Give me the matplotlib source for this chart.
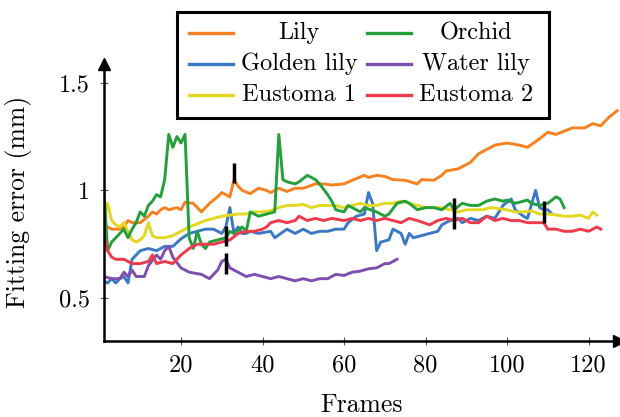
import matplotlib
matplotlib.use('Agg')
import matplotlib.pyplot as plt
from matplotlib.lines import Line2D
from matplotlib.patches import Rectangle

plt.rcParams['font.family'] = 'serif'
plt.rcParams['font.serif'] = ['cmr10']
plt.rcParams['mathtext.fontset'] = 'cm'
plt.rcParams['axes.unicode_minus'] = False

#-------------------------------------------------------------------------
# data
#-------------------------------------------------------------------------

lily_f = [1, 3, 5, 6, 7, 8, 10, 12, 13, 14, 15, 16, 17, 19, 20, 21, 23, 25, 27,
          29, 30, 32, 33, 34, 35, 37, 39, 41, 42, 44, 46, 48, 50, 53, 55, 57,
          60, 62, 65, 66, 68, 70, 72, 75, 78, 79, 82, 84, 85, 88, 89, 91, 93,
          95, 97, 100, 103, 105, 108, 110, 112, 116, 119, 121, 123, 125, 127]
lily_v = [0.84, 0.82, 0.82, 0.83, 0.86, 0.85, 0.85, 0.88, 0.90, 0.89, 0.91,
          0.92, 0.91, 0.92, 0.91, 0.945, 0.94, 0.90, 0.94, 0.97, 0.99, 0.97,
          1.05, 1.02, 1.00, 0.985, 1.01, 1.00, 0.99, 1.01, 0.995, 1.01, 1.01,
          1.03, 1.03, 1.025, 1.03, 1.047, 1.07, 1.06, 1.07, 1.065, 1.05, 1.047,
          1.03, 1.05, 1.047, 1.07, 1.09, 1.10, 1.11, 1.13, 1.17, 1.19, 1.21,
          1.22, 1.21, 1.20, 1.24, 1.27, 1.26, 1.29, 1.29, 1.31, 1.30, 1.34,
          1.37]

golden_f = [1, 2, 3, 4, 5, 6, 7, 8, 10, 12, 14, 16, 18, 20, 22, 24, 26, 28, 30,
            31, 32, 33, 34, 35, 36, 37, 39, 42, 43, 46, 48, 50, 52, 54, 56, 58,
            60, 61, 63, 65, 66, 67, 68, 69, 71, 72, 74, 75, 76, 77, 79, 81, 83,
            84, 86, 88, 89, 91, 93, 95, 97, 99, 101, 102, 104, 105, 107, 108,
            109, 110, 111]
golden_v = [0.58, 0.57, 0.59, 0.57, 0.59, 0.60, 0.57, 0.68, 0.72, 0.73, 0.72,
            0.74, 0.74, 0.775, 0.80, 0.81, 0.82, 0.82, 0.80, 0.83, 0.92, 0.80,
            0.83, 0.80, 0.80, 0.81, 0.80, 0.81, 0.78, 0.82, 0.80, 0.82, 0.80,
            0.81, 0.81, 0.82, 0.82, 0.85, 0.88, 0.89, 0.99, 0.94, 0.72, 0.76,
            0.77, 0.82, 0.80, 0.75, 0.80, 0.78, 0.79, 0.80, 0.81, 0.84, 0.86,
            0.87, 0.85, 0.87, 0.86, 0.88, 0.87, 0.93, 0.96, 0.91, 0.88, 0.87,
            1.00, 0.92, 0.91, 0.91, 0.89]

orchid_f = [1, 2, 3, 4, 5, 6, 7, 8, 9, 10, 11, 12, 13, 14, 15, 16, 17, 18, 19,
            20, 21, 22, 23, 24, 25, 26, 27, 29, 31, 32, 33, 35, 36, 37, 39, 41,
            43, 44, 45, 46, 48, 49, 51, 53, 54, 56, 57, 58, 60, 61, 64, 65, 68,
            70, 71, 73, 75, 76, 78, 80, 82, 84, 86, 87, 89, 91, 93, 95, 97, 99,
            100, 102, 104, 105, 106, 108, 110, 112, 113, 114]
orchid_v = [1.03, 0.72, 0.76, 0.78, 0.80, 0.82, 0.78, 0.82, 0.85, 0.90, 0.88,
            0.93, 0.95, 0.98, 0.97, 1.05, 1.26, 1.20, 1.25, 1.22, 1.26, 0.78,
            0.73, 0.81, 0.75, 0.73, 0.76, 0.77, 0.78, 0.81, 0.80, 0.83, 0.81,
            0.90, 0.88, 0.89, 0.90, 1.26, 1.05, 1.04, 1.03, 1.04, 1.07, 1.05,
            1.03, 0.98, 0.95, 0.91, 0.90, 0.93, 0.90, 0.92, 0.90, 0.88, 0.89,
            0.94, 0.95, 0.94, 0.91, 0.92, 0.92, 0.91, 0.94, 0.91, 0.94, 0.93,
            0.93, 0.95, 0.96, 0.95, 0.955, 0.94, 0.95, 0.955, 0.94, 0.93, 0.94,
            0.97, 0.96, 0.92]

water_f = [1, 3, 5, 6, 7, 8, 9, 11, 12, 14, 15, 16, 17, 18, 20, 22, 25, 27,
           29, 30, 31, 32, 34, 36, 38, 40, 42, 44, 46, 48, 50, 52, 54, 56, 58,
           60, 62, 64, 66, 68, 70, 71, 73]
water_v = [0.60, 0.59, 0.59, 0.62, 0.60, 0.63, 0.60, 0.60, 0.65, 0.70, 0.68,
           0.72, 0.74, 0.69, 0.64, 0.62, 0.61, 0.59, 0.63, 0.67, 0.68, 0.64,
           0.62, 0.60, 0.61, 0.60, 0.59, 0.60, 0.59, 0.58, 0.59, 0.58, 0.59,
           0.59, 0.61, 0.605, 0.62, 0.625, 0.636, 0.64, 0.66, 0.66, 0.68]

eust1_f = [1, 2, 3, 4, 5, 6, 7, 8, 9, 10, 11, 12, 13, 14, 16, 18, 20, 22, 24,
           26, 28, 30, 32, 34, 36, 38, 40, 42, 44, 46, 48, 50, 52, 54, 56, 58,
           60, 62, 64, 66, 68, 70, 72, 74, 76, 78, 80, 82, 84, 86, 88, 90, 92,
           94, 96, 98, 100, 102, 104, 106, 108, 110, 112, 114, 116, 118, 120,
           121, 122]
eust1_v = [0.86, 0.94, 0.86, 0.84, 0.83, 0.85, 0.81, 0.77, 0.76, 0.77, 0.79,
           0.85, 0.79, 0.78, 0.78, 0.79, 0.81, 0.83, 0.845, 0.86, 0.87, 0.88,
           0.885, 0.89, 0.89, 0.90, 0.90, 0.906, 0.92, 0.93, 0.93, 0.935, 0.92,
           0.93, 0.93, 0.93, 0.92, 0.93, 0.94, 0.93, 0.93, 0.94, 0.94, 0.95,
           0.94, 0.93, 0.92, 0.92, 0.92, 0.91, 0.90, 0.91, 0.91, 0.91, 0.92,
           0.915, 0.91, 0.90, 0.90, 0.905, 0.89, 0.89, 0.886, 0.88, 0.88, 0.885,
           0.87, 0.90, 0.885]

eust2_f = [1, 2, 3, 4, 6, 8, 10, 12, 13, 14, 16, 18, 20, 22, 24, 26, 28, 30,
           32, 34, 36, 38, 40, 41, 42, 44, 46, 48, 49, 51, 53, 55, 57, 60, 62,
           64, 66, 68, 70, 72, 74, 76, 78, 81, 83, 85, 87, 89, 91, 93, 95, 97,
           99, 101, 103, 105, 107, 109, 110, 112, 114, 116, 118, 120, 122, 123]
eust2_v = [0.80, 0.72, 0.69, 0.68, 0.68, 0.66, 0.66, 0.67, 0.70, 0.66, 0.67,
           0.66, 0.70, 0.73, 0.75, 0.75, 0.75, 0.76, 0.77, 0.80, 0.81, 0.81,
           0.82, 0.83, 0.85, 0.86, 0.85, 0.86, 0.88, 0.86, 0.87, 0.86, 0.87,
           0.86, 0.87, 0.86, 0.87, 0.86, 0.87, 0.86, 0.85, 0.87, 0.86, 0.84,
           0.86, 0.87, 0.86, 0.87, 0.85, 0.85, 0.88, 0.86, 0.87, 0.86, 0.86,
           0.85, 0.85, 0.85, 0.82, 0.82, 0.81, 0.81, 0.82, 0.81, 0.83, 0.82]

# short black markers
mark_f  = [33, 31, 31, 87, 109]
mark_lo = [1.035, 0.74, 0.61, 0.82, 0.85]
mark_hi = [1.125, 0.835, 0.71, 0.965, 0.95]

series = [
  ('Lily',        lily_f,   lily_v,   '#f7801f'),
  ('Golden lily', golden_f, golden_v, '#3a78c6'),
  ('Eustoma 1',   eust1_f,  eust1_v,  '#e3d81e'),
  ('Orchid',      orchid_f, orchid_v, '#23a03a'),
  ('Water lily',  water_f,  water_v,  '#7f4fb0'),
  ('Eustoma 2',   eust2_f,  eust2_v,  '#f03a4c'),
]

#-------------------------------------------------------------------------
# main
#-------------------------------------------------------------------------

fig = plt.figure( figsize=(6.2, 4.17), dpi=100 )
ax = fig.add_axes( [0.167, 0.182, 0.831, 0.664] )

for name, f, v, c in series:
  ax.plot( f, v, '-', color=c, linewidth=2.1, label=name, zorder=2 )
ax.vlines( mark_f, mark_lo, mark_hi, color='k', linewidth=2.5, zorder=3 )

ax.set_xlim( 1, 127.4 )
ax.set_ylim( 0.3, 1.586 )
ax.set_xticks( [20, 40, 60, 80, 100, 120] )
ax.set_yticks( [0.5, 1, 1.5] )
ax.set_yticklabels( ['0.5', '1', '1.5'] )
ax.tick_params( direction='inout', length=5.5, width=0.8, color='#555555',
                labelsize=17.5, pad=7 )

ax.spines['top'  ].set_visible( False )
ax.spines['right'].set_visible( False )
ax.spines['left'  ].set_linewidth( 1.8 )
ax.spines['bottom'].set_linewidth( 1.8 )
ax.plot( 1, 0, '>k', markersize=9, transform=ax.transAxes, clip_on=False )
ax.plot( 0, 1, '^k', markersize=9, transform=ax.transAxes, clip_on=False )

fig.text( 19/620, 1-202/417, 'Fitting error (mm)', rotation=90,
          ha='center', va='center', fontsize=18.5 )
fig.text( 362/620, 1-405/417, 'Frames', ha='center', va='center', fontsize=18.5 )

# legend, built by hand so labels are centred in their columns
W, H = 620.0, 417.0
fig.patches.append( Rectangle( (177/W, 1-118/H), (549-177)/W, (118-12)/H,
                               transform=fig.transFigure, fill=True,
                               facecolor='white', edgecolor='k', linewidth=2.2,
                               zorder=5 ) )
rows = [ 33, 64, 95 ]
cols = [ (189, 233, 299), (367, 411, 476) ]
for i, (name, f, v, c) in enumerate( series ):
  col = cols[ i // 3 ]
  y = 1 - rows[ i % 3 ]/H
  fig.lines.append( Line2D( [col[0]/W, col[1]/W], [y, y], color=c, linewidth=2.4,
                            transform=fig.transFigure, zorder=6 ) )
  fig.text( col[2]/W, y, name, ha='center', va='center', fontsize=17.5, zorder=6 )

plt.savefig( 'out.png', dpi=100 )
